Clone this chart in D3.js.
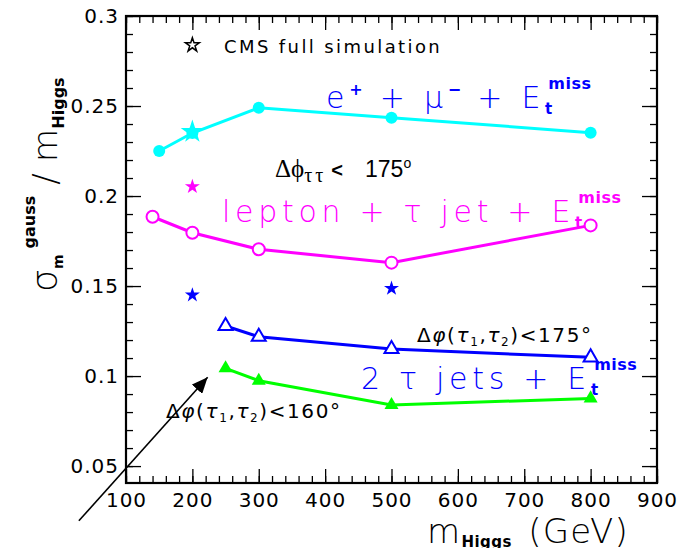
<!DOCTYPE html>
<html>
<head>
<meta charset="utf-8">
<script src="https://cdn.jsdelivr.net/npm/d3@7"></script>
<style>
body { margin: 0; background: #fff; }
text { font-family: "DejaVu Sans", sans-serif; }
</style>
</head>
<body>
<svg id="chart" width="687" height="548"></svg>
<script>
// e+ mu- + Et miss
var massEMu = [150, 200, 300, 500, 800];
var resEMu = [0.225, 0.235, 0.249, 0.2435, 0.2352];
// lepton + tau jet + Et miss
var massLepTau = [140, 200, 300, 500, 800];
var resLepTau = [0.1885, 0.1796, 0.1704, 0.163, 0.1837];
// 2 tau jets, dphi < 175
var massTau175 = [250, 300, 500, 800];
var resTau175 = [0.1278, 0.1218, 0.115, 0.1104];
// 2 tau jets, dphi < 160
var massTau160 = [250, 300, 500, 800];
var resTau160 = [0.1043, 0.0974, 0.0839, 0.0876];
// CMS full simulation points (stars)
var starMass = [200, 200, 200, 500];
var starRes = [0.2357, 0.2052, 0.145, 0.1487];
var starSeries = ["emu", "leptau", "tautau", "tautau"];

var xTicks = [100, 200, 300, 400, 500, 600, 700, 800, 900];
var yTicks = [0.05, 0.1, 0.15, 0.2, 0.25, 0.3];

// arrow pointing at the dphi<160 curve, in data units
var arrowFrom = [29, 0.0196];
var arrowTo = [223, 0.0993];

var colors = {emu: "#00ffff", leptau: "#ff00ff", tautau: "#0000ff", tau160: "#00ff00"};

var svg = d3.select("#chart");

var x = d3.scaleLinear().domain([100, 900]).range([126, 657]);
var y = d3.scaleLinear().domain([0.0406, 0.3]).range([483, 16]);

// axes with inward ticks, ROOT style
function ticksAxis(axis, pos, vals, size, labels) {
    var a = axis.tickValues(vals).tickSizeInner(size).tickSizeOuter(0);
    if (!labels) a.tickFormat("");
    var g = svg.append("g").attr("transform", pos).call(a);
    g.select(".domain").remove();
    g.selectAll("line").attr("stroke", "#000").attr("stroke-width", 1.3);
    return g;
}
var minorX = d3.range(100, 901, 20);
var minorY = d3.range(0.05, 0.3001, 0.01);

ticksAxis(d3.axisBottom(x), "translate(0,483)", minorX, -7, false);
ticksAxis(d3.axisBottom(x), "translate(0,483)", xTicks, -14, true).call(function(g) {
    g.selectAll("text").attr("font-size", 20).attr("letter-spacing", 1).attr("fill", "#000").attr("y", 10);
});
ticksAxis(d3.axisTop(x), "translate(0,16)", minorX, -7, false);
ticksAxis(d3.axisTop(x), "translate(0,16)", xTicks, -14, false);

ticksAxis(d3.axisLeft(y), "translate(126,0)", minorY, -7, false);
ticksAxis(d3.axisLeft(y).tickFormat(function(d) { return String(d); }), "translate(126,0)", yTicks, -15, true)
    .call(function(g) {
        g.selectAll("text").attr("font-size", 20).attr("letter-spacing", 1).attr("fill", "#000").attr("x", -7);
    });
ticksAxis(d3.axisRight(y), "translate(657,0)", minorY, -7, false);
ticksAxis(d3.axisRight(y), "translate(657,0)", yTicks, -15, false);

// frame
svg.append("rect")
    .attr("x", x(100)).attr("y", y(0.3))
    .attr("width", x(900) - x(100)).attr("height", y(0.0406) - y(0.3))
    .attr("fill", "none").attr("stroke", "#000").attr("stroke-width", 2.2);

// curves
var line = d3.line()
    .x(function(d) { return x(d[0]); })
    .y(function(d) { return y(d[1]); });

function drawSeries(mass, res, color) {
    var pts = d3.zip(mass, res);
    svg.append("path").datum(pts)
        .attr("d", line)
        .attr("fill", "none").attr("stroke", color).attr("stroke-width", 3);
    return pts;
}

var pEMu = drawSeries(massEMu, resEMu, colors.emu);
var pLep = drawSeries(massLepTau, resLepTau, colors.leptau);
var p175 = drawSeries(massTau175, resTau175, colors.tautau);
var p160 = drawSeries(massTau160, resTau160, colors.tau160);

svg.selectAll(".mEMu").data(pEMu).enter().append("circle")
    .attr("cx", function(d) { return x(d[0]); })
    .attr("cy", function(d) { return y(d[1]); })
    .attr("r", 6).attr("fill", colors.emu);

svg.selectAll(".mLep").data(pLep).enter().append("circle")
    .attr("cx", function(d) { return x(d[0]); })
    .attr("cy", function(d) { return y(d[1]); })
    .attr("r", 6).attr("fill", "#fff").attr("stroke", colors.leptau).attr("stroke-width", 2);

var tri = d3.symbol().type(d3.symbolTriangle).size(85);
svg.selectAll(".m175").data(p175).enter().append("path")
    .attr("d", tri)
    .attr("transform", function(d) { return "translate(" + x(d[0]) + "," + y(d[1]) + ")"; })
    .attr("fill", "#fff").attr("stroke", colors.tautau).attr("stroke-width", 2);

svg.selectAll(".m160").data(p160).enter().append("path")
    .attr("d", tri)
    .attr("transform", function(d) { return "translate(" + x(d[0]) + "," + y(d[1]) + ")"; })
    .attr("fill", colors.tau160);

// stars
svg.selectAll(".star").data(d3.zip(starMass, starRes, starSeries)).enter().append("path")
    .attr("d", function(d, i) { return d3.symbol().type(d3.symbolStar).size(i === 0 ? 170 : 70)(); })
    .attr("transform", function(d) { return "translate(" + x(d[0]) + "," + y(d[1]) + ")"; })
    .attr("fill", function(d) { return colors[d[2]]; });

// arrow
svg.append("defs").append("marker")
    .attr("id", "head").attr("markerUnits", "userSpaceOnUse")
    .attr("markerWidth", 18).attr("markerHeight", 14)
    .attr("refX", 16).attr("refY", 7).attr("orient", "auto")
    .append("path").attr("d", "M0,0 L16,7 L0,14 Z").attr("fill", "#000");
svg.append("line")
    .attr("x1", x(arrowFrom[0])).attr("y1", y(arrowFrom[1]))
    .attr("x2", x(arrowTo[0])).attr("y2", y(arrowTo[1]))
    .attr("stroke", "#000").attr("stroke-width", 1.6)
    .attr("marker-end", "url(#head)");

// rich text helper: parts are {t, size, bold, shift, dx, font, italic, ls}
function rich(parent, px, py, parts, color, size, spacing) {
    var t = parent.append("text").attr("x", px).attr("y", py)
        .attr("fill", color).attr("font-size", size)
        .attr("font-weight", 300).attr("letter-spacing", spacing || 0);
    var cur = 0;
    parts.forEach(function(p) {
        var s = p.shift || 0;
        var ts = t.append("tspan").text(p.t).attr("dy", s - cur);
        cur = s;
        if (p.size) ts.attr("font-size", p.size);
        if (p.bold) ts.attr("font-weight", "bold");
        if (p.dx) ts.attr("dx", p.dx);
        if (p.font) ts.style("font-family", p.font);
        if (p.italic) ts.attr("font-style", "italic");
        if (p.ls != null) ts.attr("letter-spacing", p.ls);
    });
    return t;
}

// legend
svg.append("path")
    .attr("d", d3.symbol().type(d3.symbolStar).size(60))
    .attr("transform", "translate(" + x(200) + ",45)")
    .attr("fill", "none").attr("stroke", "#000").attr("stroke-width", 1.5);
rich(svg, 224, 53, [{t: "CMS full simulation"}], "#000", 18, 2.4).attr("font-weight", "normal");

// channel labels
var miss = function() {
    return [{t: "t", size: 15, bold: true, shift: 6, ls: 0},
            {t: "miss", size: 16, bold: true, shift: -19, dx: -4, ls: 0.5}];
};
rich(svg, 326, 108, [
    {t: "e"}, {t: "+", size: 16, bold: true, shift: -13, ls: 0},
    {t: " + \u03bc", dx: 3}, {t: "\u2212", size: 16, bold: true, shift: -13, ls: 0},
    {t: " + E", dx: 2}
].concat(miss()), "#0000ff", 30, 4.7);

rich(svg, 222, 222, [
    {t: "lepton + \u03c4 jet + E"}
].concat(miss()), "#ff00ff", 30, 4.7);

rich(svg, 361, 389, [
    {t: "2 \u03c4 jets + E"}
].concat(miss()), "#0000ff", 30, 4.7);

// cut labels
rich(svg, 275, 177, [
    {t: "\u0394\u03d5", font: "Liberation Serif", size: 25},
    {t: "\u03c4\u03c4", font: "Liberation Serif", size: 20, shift: 5, ls: 3},
    {t: "<", bold: true, size: 20, font: "Liberation Sans", dx: 5},
    {t: "175", font: "Liberation Sans", size: 23, dx: 22},
    {t: "o", font: "Liberation Sans", size: 14, shift: -9}
], "#000", 22, 0).attr("font-weight", "normal");

function dphiLabel(px, py, cut) {
    return rich(svg, px, py, [
        {t: "\u0394"}, {t: "\u03c6", italic: true}, {t: "("}, {t: "\u03c4", italic: true},
        {t: "1", size: 12, shift: 4}, {t: ",", shift: 0}, {t: "\u03c4", italic: true},
        {t: "2", size: 12, shift: 4}, {t: ")<" + cut + "\u00b0", shift: 0}
    ], "#000", 20, 1.6).attr("font-weight", "normal");
}
dphiLabel(417, 342, "175");
dphiLabel(166, 418, "160");

// axis titles
rich(svg, 427, 543, [
    {t: "m"}, {t: "Higgs", size: 15, bold: true, shift: 4, ls: 0.5},
    {t: " (GeV)", shift: 0, dx: 4}
], "#000", 34, 1.3);

var yt = svg.append("g").attr("transform", "translate(57,292) rotate(-90)");
rich(yt, 0, 0, [
    {t: "\u03c3", size: 36}, {t: "m", size: 14, bold: true, shift: 6, ls: 0},
    {t: "gauss", size: 16, bold: true, shift: -22, dx: 6, ls: 0},
    {t: " / ", shift: 0, size: 34}, {t: "m", size: 34},
    {t: "Higgs", size: 16, bold: true, shift: 7, ls: 0}
], "#000", 34, 0.2);
</script>
</body>
</html>
